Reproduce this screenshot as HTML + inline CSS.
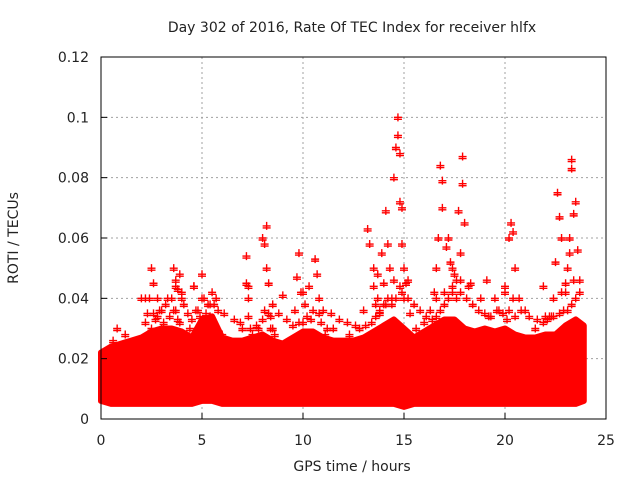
<!DOCTYPE html>
<html><head><meta charset="utf-8"><style>
body{margin:0;background:#fff}
svg text{font-family:"DejaVu Sans","Liberation Sans",sans-serif;font-size:14px;fill:#222}
</style></head><body>
<svg id="c" width="640" height="480">
<text x="352" y="32" text-anchor="middle">Day 302 of 2016, Rate Of TEC Index for receiver hlfx</text>
<text x="352" y="471" text-anchor="middle">GPS time / hours</text>
<text transform="translate(18,238) rotate(-90)" text-anchor="middle">ROTI / TECUs</text>
<g id="grid"></g><g id="band"></g><g id="pts"></g><g id="axes"></g>
</svg>
<script>
const xTicks=[0,5,10,15,20,25];
const yTicks=[0,0.02,0.04,0.06,0.08,0.1,0.12];
const yTickLabels=["0","0.02","0.04","0.06","0.08","0.1","0.12"];
const bandHours=[0,0.5,1,1.5,2,2.5,3,3.5,4,4.5,5,5.5,6,6.5,7,7.5,8,8.5,9,9.5,10,10.5,11,11.5,12,12.5,13,13.5,14,14.5,15,15.5,16,16.5,17,17.5,18,18.5,19,19.5,20,20.5,21,21.5,22,22.5,23,23.5,23.9];
const bandUpper=[0.022,0.024,0.025,0.026,0.027,0.029,0.03,0.03,0.029,0.027,0.033,0.034,0.027,0.026,0.026,0.027,0.028,0.026,0.025,0.027,0.029,0.029,0.027,0.026,0.026,0.026,0.027,0.029,0.031,0.033,0.03,0.027,0.029,0.031,0.033,0.033,0.03,0.029,0.03,0.029,0.03,0.028,0.027,0.027,0.028,0.028,0.031,0.033,0.031];
const bandLower=[0.006,0.005,0.005,0.005,0.005,0.005,0.005,0.005,0.005,0.005,0.006,0.006,0.005,0.005,0.005,0.005,0.005,0.005,0.005,0.005,0.005,0.005,0.005,0.005,0.005,0.005,0.005,0.005,0.005,0.005,0.004,0.005,0.005,0.005,0.005,0.005,0.005,0.005,0.005,0.005,0.005,0.005,0.005,0.005,0.005,0.005,0.005,0.005,0.006];
const spikeHours=[0.6,0.8,1.2,1.6,2.2,2.4,2.5,2.6,2.6,2.7,2.8,3.0,3.1,3.3,3.5,3.6,3.7,3.7,3.8,3.9,3.9,4.0,4.2,4.4,4.6,4.8,5.0,5.1,5.2,5.3,5.4,5.5,5.6,5.7,6.0,6.3,7.0,7.2,7.2,7.3,7.3,7.4,7.5,7.8,8.0,8.1,8.2,8.2,8.3,8.3,8.4,8.5,8.6,9.0,9.6,9.7,9.8,9.9,10.0,10.1,10.3,10.6,10.7,10.8,10.9,11.1,11.2,11.5,12.3,12.8,13.0,13.2,13.3,13.5,13.5,13.6,13.7,13.8,13.9,14.0,14.1,14.2,14.3,14.4,14.5,14.6,14.7,14.7,14.8,14.8,14.9,14.9,15.0,15.0,15.1,15.3,15.6,16.0,16.3,16.5,16.6,16.7,16.8,16.9,16.9,17.1,17.2,17.3,17.4,17.5,17.6,17.7,17.8,17.9,17.9,18.0,18.3,18.8,19.2,19.5,19.7,20.0,20.1,20.2,20.3,20.4,20.5,20.7,21.0,21.5,22.0,22.2,22.3,22.4,22.5,22.6,22.7,22.8,23.0,23.1,23.2,23.2,23.3,23.3,23.4,23.5,23.6,23.7,
2.0,2.3,2.5,2.8,3.0,3.2,3.4,3.6,3.8,4.1,4.3,4.5,4.7,4.9,5.2,5.4,5.6,5.8,6.1,6.6,6.9,7.4,7.7,8.0,8.4,8.8,9.2,9.5,9.8,10.2,10.4,10.8,11.0,11.4,11.8,12.2,12.6,13.1,13.4,13.6,13.8,14.0,14.2,14.4,14.6,14.9,15.2,15.5,15.8,16.1,16.4,16.6,16.8,17.0,17.2,17.4,17.6,17.8,18.1,18.4,18.7,19.0,19.3,19.6,19.9,20.2,20.5,20.8,21.2,21.6,21.9,22.1,22.4,22.7,22.9,23.1,23.3,23.5,23.7,
2.2,2.9,3.3,3.7,4.0,4.6,5.0,5.3,5.5,5.7,7.3,8.1,8.5,10.0,10.5,13.7,14.1,14.5,14.8,15.2,16.6,17.0,17.4,17.8,18.2,19.1,20.0,20.4,21.9,22.8,23.0,23.4];
const spikeValues=[0.026,0.03,0.028,0.024,0.032,0.04,0.05,0.045,0.035,0.033,0.04,0.03,0.032,0.029,0.04,0.05,0.046,0.036,0.043,0.048,0.032,0.04,0.028,0.03,0.044,0.036,0.048,0.04,0.035,0.033,0.038,0.032,0.03,0.03,0.028,0.024,0.03,0.045,0.054,0.04,0.034,0.026,0.028,0.03,0.06,0.058,0.064,0.05,0.045,0.035,0.03,0.03,0.028,0.041,0.036,0.047,0.055,0.042,0.032,0.038,0.044,0.053,0.048,0.04,0.032,0.028,0.03,0.03,0.028,0.03,0.036,0.063,0.058,0.05,0.044,0.038,0.048,0.035,0.055,0.045,0.069,0.058,0.05,0.04,0.08,0.09,0.1,0.094,0.088,0.072,0.07,0.058,0.05,0.04,0.045,0.035,0.03,0.032,0.036,0.042,0.04,0.06,0.084,0.079,0.07,0.057,0.06,0.052,0.05,0.048,0.046,0.069,0.055,0.087,0.078,0.065,0.045,0.04,0.034,0.04,0.036,0.042,0.033,0.06,0.065,0.062,0.05,0.04,0.036,0.03,0.034,0.034,0.034,0.04,0.052,0.075,0.067,0.06,0.045,0.05,0.055,0.06,0.086,0.083,0.068,0.072,0.056,0.046,0.04,0.035,
0.03,0.034,0.036,0.038,0.034,0.036,0.033,0.038,0.035,0.033,0.036,0.034,0.032,0.034,0.038,0.036,0.035,0.033,0.032,0.03,0.031,0.033,0.034,0.035,0.033,0.031,0.032,0.034,0.033,0.035,0.036,0.035,0.033,0.032,0.031,0.031,0.032,0.034,0.036,0.038,0.04,0.038,0.04,0.042,0.04,0.038,0.036,0.034,0.033,0.034,0.036,0.038,0.04,0.042,0.04,0.042,0.04,0.038,0.036,0.035,0.034,0.036,0.035,0.036,0.034,0.036,0.034,0.033,0.032,0.033,0.034,0.035,0.036,0.036,0.038,0.04,0.042,0.04,0.036,
0.04,0.044,0.042,0.044,0.04,0.038,0.042,0.04,0.044,0.036,0.038,0.042,0.036,0.04,0.038,0.046,0.044,0.046,0.05,0.042,0.044,0.046,0.044,0.046,0.044,0.04,0.044,0.042,0.042,0.046,0.048,0.046];
const X0=101,X1=606,Y0=419,Y1=57;
const sx=h=>X0+(h/25)*(X1-X0), sy=v=>Y0-(v/0.12)*(Y0-Y1);
const NS="http://www.w3.org/2000/svg";
function mk(t,a,p){const e=document.createElementNS(NS,t);for(const k in a)e.setAttribute(k,a[k]);p.appendChild(e);return e;}
const grid=document.getElementById('grid'),axes=document.getElementById('axes');
xTicks.forEach((t,i)=>{
 if(i>0&&i<xTicks.length-1){const l=mk('line',{x1:sx(t),x2:sx(t),y1:Y1,y2:Y0,stroke:'#a0a0a0','stroke-dasharray':'2,3'},grid);
 
 }
 const tk=mk('line',{x1:sx(t),x2:sx(t),y1:Y0,y2:Y0-6,stroke:'#000'},axes);
 
 
 const tx=mk('text',{x:sx(t),y:Y0+26,'text-anchor':'middle'},axes);tx.textContent=t;
 
 
});
yTicks.forEach((t,i)=>{
 if(i>0&&i<yTicks.length-1){const l=mk('line',{x1:X0,x2:X1,y1:sy(t),y2:sy(t),stroke:'#a0a0a0','stroke-dasharray':'2,3'},grid);
 
 }
 const tk=mk('line',{x1:X0,x2:X0+6,y1:sy(t),y2:sy(t),stroke:'#000'},axes);
 
 
 const tx=mk('text',{x:X0-12,y:sy(t)+5,'text-anchor':'end'},axes);tx.textContent=yTickLabels[i];
 
 
});
const fr=mk('rect',{x:X0,y:Y1,width:X1-X0,height:Y0-Y1,fill:'none',stroke:'#000'},axes);


let d='M'+bandHours.map((h,i)=>sx(h)+','+sy(bandUpper[i])).join(' L');
for(let i=bandHours.length-1;i>=0;i--)d+=' L'+sx(bandHours[i])+','+sy(bandLower[i]);
const b=mk('path',{d:d+'Z',fill:'#f00',stroke:'#f00','stroke-width':6,'stroke-linejoin':'round'},document.getElementById('band'));


const pts=document.getElementById('pts');
spikeHours.forEach((h,i)=>{
 const x=sx(h),y=sy(spikeValues[i]);
 const p=mk('path',{d:`M${x-4},${y}h8M${x},${y-4}v8M${x-4},${y+2}h8`,stroke:'#f00','stroke-width':1.4},pts);
 
 
});
</script>
</body></html>
